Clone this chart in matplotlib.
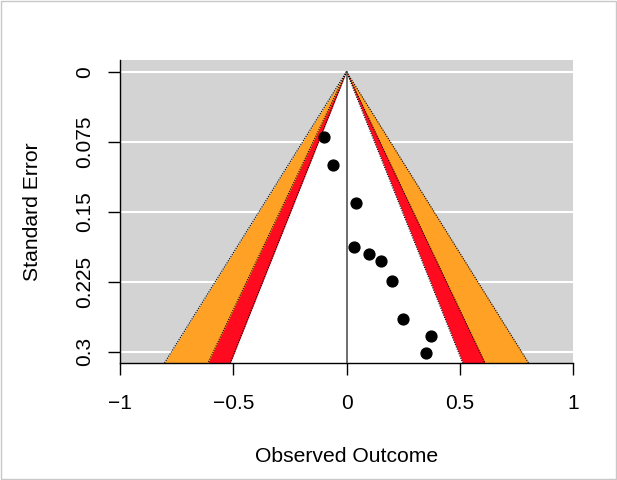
import numpy as np
import matplotlib
matplotlib.use("Agg")
import matplotlib.pyplot as plt
from matplotlib.patches import Rectangle

# Data
estimates = [-0.100, -0.059, 0.040, 0.032, 0.100, 0.152, 0.200, 0.251, 0.372, 0.353]
std_errors = [0.070, 0.100, 0.141, 0.1875, 0.195, 0.203, 0.224, 0.265, 0.283, 0.301]
contour_levels = [0.90, 0.95, 0.99]
contour_z = [1.645, 1.960, 2.576]
contour_colors = ["white", "#FF0A1E", "#FFA124"]
x_ticks = [-1, -0.5, 0, 0.5, 1]
x_tick_labels = ["\u22121", "\u22120.5", "0", "0.5", "1"]
y_ticks = [0, 0.075, 0.15, 0.225, 0.3]
y_tick_labels = ["0", "0.075", "0.15", "0.225", "0.3"]
se_max = 0.312
y_top = -0.0125

plt.rcParams['font.family'] = ['Liberation Sans', 'DejaVu Sans']

fig = plt.figure(figsize=(6.17, 4.80), dpi=100)
ax = fig.add_axes([120/617, 1-363/480, 453/617, 303/480])
ax.set_facecolor("#D3D3D3")
ax.set_xlim(-1, 1)
ax.set_ylim(se_max, y_top)

for yt in y_ticks:
    ax.axhline(yt, color="white", lw=1.5, zorder=1)

se = np.array([0, se_max])
# draw from outermost to innermost
for z, col in reversed(list(zip(contour_z, contour_colors))):
    ax.fill_betweenx(se, -z*se, z*se, color=col, lw=0, zorder=2)
for z in contour_z:
    ax.plot(-z*se, se, color="black", lw=0.8, ls=(0, (1, 1.2)), zorder=3)
    ax.plot(z*se, se, color="black", lw=0.8, ls=(0, (1, 1.2)), zorder=3)

ax.plot([0, 0], [0, se_max], color="#555555", lw=1.2, zorder=3)
ax.plot(estimates, std_errors, 'o', color="black", ms=7.8, zorder=4)

ax.set_xticks(x_ticks)
ax.set_xticklabels(x_tick_labels, fontsize=15)
ax.set_yticks(y_ticks)
ax.set_yticklabels(y_tick_labels, fontsize=15, rotation=90, va="center")
ax.tick_params(axis='both', direction='out', length=8.6, width=1)
ax.tick_params(axis='x', pad=14)
ax.tick_params(axis='y', pad=10)
for s in ["top", "right"]:
    ax.spines[s].set_visible(False)
for s in ["left", "bottom"]:
    ax.spines[s].set_linewidth(1)

ax.set_xlabel("Observed Outcome", fontsize=15.2, labelpad=24)
ax.set_ylabel("Standard Error", fontsize=15.2, labelpad=24)

fig.patches.append(Rectangle((0.002, 0.002), 0.996, 0.996, transform=fig.transFigure,
                             fill=False, edgecolor="#C8C8C8", lw=1))

fig.savefig("out.png", dpi=100)
